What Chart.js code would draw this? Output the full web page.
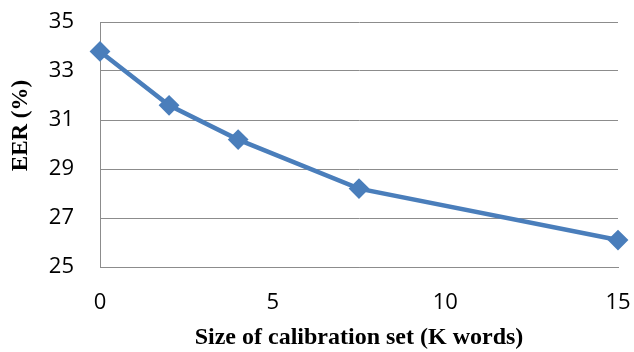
<!DOCTYPE html>
<html>
<head>
<meta charset="utf-8">
<script src="https://cdn.jsdelivr.net/npm/chart.js@4/dist/chart.umd.min.js"></script>
<style>
  html, body { margin: 0; padding: 0; background: #fff; }
  #wrap { width: 634px; height: 352px; }
</style>
</head>
<body>
<div id="wrap"><canvas id="eer" width="634" height="352"></canvas></div>
<script>
  // calibration set size (K words) against EER (%)
  const calibSize = [0, 2, 4, 7.5, 15];
  const eerValues = [33.8, 31.6, 30.2, 28.2, 26.1];
  const xTicks = [0, 5, 10, 15];
  const yTicks = [25, 27, 29, 31, 33, 35];

  const xTitle = "Size of calibration set (K words)";
  const yTitle = "EER (%)";

  const lineBlue = "#4a7ebb";
  const gridGray = "#8c8c8c";
  const tickFont = { family: "'Open Sans', sans-serif", size: 22 };
  const titleFont = { family: "'Liberation Serif', 'Times New Roman', serif", size: 24, weight: "bold" };

  // rotated y title sits a little above the middle of the plot
  const yTitlePlugin = {
    id: "yTitle",
    afterDraw(chart) {
      const ctx = chart.ctx;
      const area = chart.chartArea;
      ctx.save();
      ctx.translate(21, (area.top + area.bottom) / 2 - 19);
      ctx.rotate(-Math.PI / 2);
      ctx.font = "bold 23px 'Liberation Serif', 'Times New Roman', serif";
      ctx.fillStyle = "#000";
      ctx.textAlign = "center";
      ctx.textBaseline = "middle";
      ctx.fillText(yTitle, 0, 0);
      ctx.restore();
    },
  };

  const ctx = document.getElementById("eer").getContext("2d");
  const chart = new Chart(ctx, {
    type: "line",
    data: {
      datasets: [
        {
          data: calibSize.map((x, i) => ({ x: x, y: eerValues[i] })),
          borderColor: lineBlue,
          backgroundColor: lineBlue,
          borderWidth: 4.5,
          pointStyle: "rectRot",
          pointRadius: 9,
          pointBorderWidth: 2,
          pointBorderColor: lineBlue,
          pointBackgroundColor: lineBlue,
          tension: 0,
          clip: false,
        },
      ],
    },
    options: {
      responsive: false,
      animation: false,
      events: [],
      layout: { padding: { top: 22, right: 16, left: 0, bottom: 0 } },
      plugins: {
        legend: { display: false },
        tooltip: { enabled: false },
      },
      scales: {
        x: {
          type: "linear",
          min: 0,
          max: 15,
          afterBuildTicks: (scale) => {
            scale.ticks = xTicks.map((v) => ({ value: v }));
          },
          afterFit: (scale) => {
            scale.height = 85;
            scale.paddingLeft = 0;
            scale.paddingRight = 0;
          },
          grid: { display: false, drawTicks: false },
          border: { display: true, color: gridGray, width: 1 },
          ticks: { color: "#000", font: tickFont, padding: 23, maxRotation: 0 },
          title: {
            display: true,
            text: xTitle,
            color: "#000",
            font: titleFont,
            padding: { top: 0, bottom: 0 },
          },
        },
        y: {
          type: "linear",
          min: 25,
          max: 35,
          afterBuildTicks: (scale) => {
            scale.ticks = yTicks.map((v) => ({ value: v }));
          },
          afterFit: (scale) => {
            scale.width = 100;
            scale.paddingTop = 0;
            scale.paddingBottom = 0;
          },
          grid: { color: gridGray, lineWidth: 1, drawTicks: false },
          border: { display: true, color: gridGray, width: 1 },
          ticks: { color: "#000", font: tickFont, padding: 26 },
        },
      },
    },
    plugins: [yTitlePlugin],
  });
</script>
</body>
</html>
